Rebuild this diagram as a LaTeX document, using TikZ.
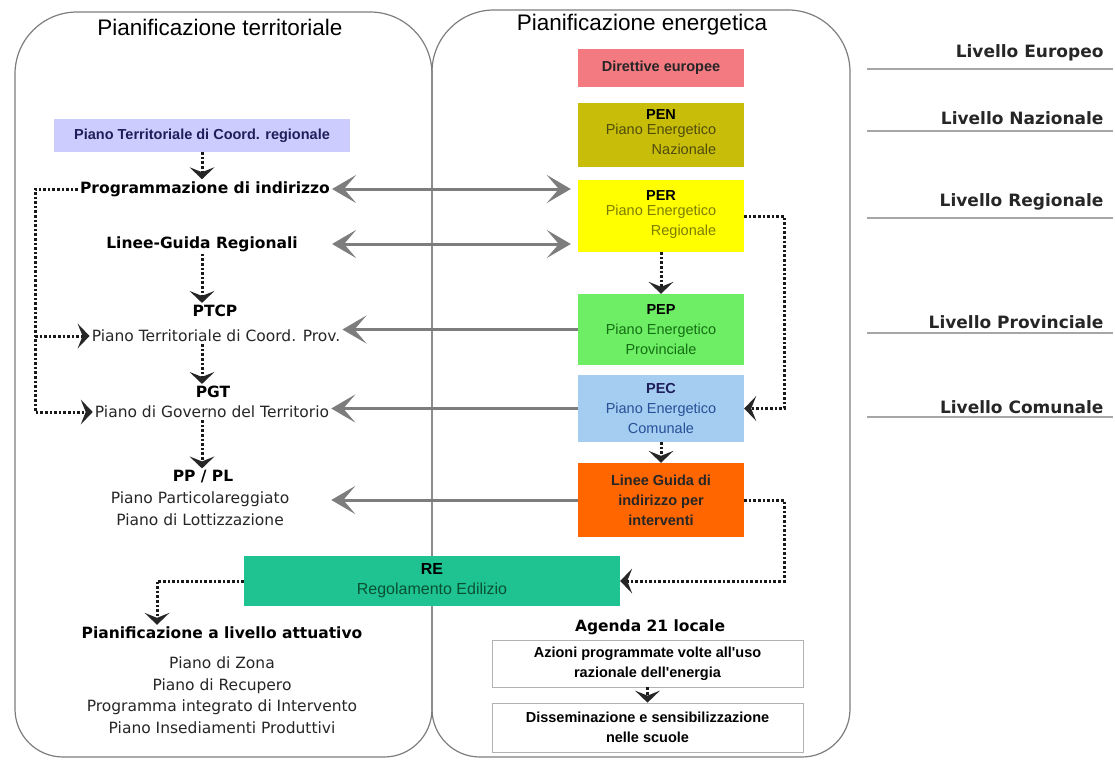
\documentclass[tikz,border=0pt]{standalone}
\usepackage{fontspec}
\setmainfont{DejaVu Sans}
\newfontfamily\arialfont{Liberation Sans}
\usetikzlibrary{arrows.meta}
\definecolor{panelgray}{RGB}{125,125,125}
\definecolor{arrgray}{RGB}{125,125,125}
\definecolor{dircol}{RGB}{244,122,130}
\definecolor{pencol}{RGB}{200,190,10}
\definecolor{percol}{RGB}{255,255,0}
\definecolor{pepcol}{RGB}{110,238,100}
\definecolor{peccol}{RGB}{165,205,242}
\definecolor{lgicol}{RGB}{255,102,0}
\definecolor{recol}{RGB}{30,195,145}
\definecolor{ptcrcol}{RGB}{204,204,255}
\definecolor{pentxt}{RGB}{80,75,10}
\definecolor{pertxt}{RGB}{125,125,0}
\definecolor{peptxt}{RGB}{20,110,20}
\definecolor{pectxt}{RGB}{40,80,150}
\definecolor{retxt}{RGB}{10,80,50}
\definecolor{navytxt}{RGB}{30,30,90}
\begin{document}
\begin{tikzpicture}[x=1pt, y=-1pt,
    panel/.style={draw=panelgray, line width=1.2pt},
    ttl/.style={font=\arialfont\fontsize{22.5}{27}\selectfont},
    lvl/.style={anchor=east, font=\bfseries\fontsize{17}{20}\selectfont, text=black!85},
    lvlline/.style={draw=gray!70, line width=1.6pt},
    lab/.style={font=\bfseries\fontsize{15.5}{19}\selectfont, inner sep=2pt},
    desc/.style={font=\fontsize{15.5}{21.5}\selectfont, align=center, inner sep=2pt, text=black!85},
    ebox/.style={minimum width=166pt, align=center, inner sep=0pt, font=\arialfont\fontsize{14.5}{20}\selectfont},
    abox/.style={draw=gray!60, line width=0.8pt, minimum width=311pt, align=center, inner sep=0pt, font=\arialfont\bfseries\fontsize{14.5}{20}\selectfont},
    gtip/.tip={Stealth[length=24pt, width=28pt, inset=12pt]},
    garr/.style={draw=arrgray, fill=arrgray, line width=3pt, -gtip},
    garrb/.style={draw=arrgray, fill=arrgray, line width=3pt, gtip-gtip, shorten >=7pt},
    darr/.style={draw=black!90, line width=3pt, dash pattern=on 2.6pt off 2pt,
                 -{Stealth[length=12pt, width=25pt, inset=5pt, line width=0pt, fill=black!85]}}]
  \useasboundingbox (0,0) rectangle (1115,760);

  \draw[panel] (15,400) [rounded corners=62pt] |- (432,12) -- (432,400);
  \draw[panel] (15,400) [rounded corners=48pt] |- (432,757) -- (432,400);
  \draw[panel] (432,400) [rounded corners=62pt] |- (850,10) -- (850,400);
  \draw[panel] (432,400) [rounded corners=48pt] |- (850,757) -- (850,400);

  \node[ttl] (tterr) at (220,27) {Pianificazione territoriale};
  \node[ttl] (tener) at (642,25) {Pianificazione energetica};

  \foreach \ty/\ly/\name in {53/69/Europeo, 118/131/Nazionale, 202/218/Regionale, 322/333/Provinciale, 407/417/Comunale} {
    \node[lvl] (l\name) at (1107,\ty) {Livello \name};
    \draw[lvlline] (867,\ly) -- (1113,\ly);
  }

  \node[fill=ptcrcol, minimum width=296pt, minimum height=33pt, inner sep=0pt, text=navytxt,
        font=\arialfont\bfseries\fontsize{14.5}{17}\selectfont] (ptcr) at (202,135.5) {Piano Territoriale di Coord. regionale};
  \node[lab] (prog) at (205,189) {Programmazione di indirizzo};
  \node[lab] (lgr) at (202,244) {Linee-Guida Regionali};
  \node[lab] (ptcpT) at (215,311) {PTCP};
  \node[desc] (ptcp) at (216,336) {Piano Territoriale di Coord. Prov.};
  \node[lab] (pgtT) at (213,392) {PGT};
  \node[desc] (pgt) at (212,412) {Piano di Governo del Territorio};
  \node[lab] (ppT) at (203,477) {PP / PL};
  \node[desc] (pp) at (200,508.5) {Piano Particolareggiato\\Piano di Lottizzazione};
  \node[lab] (attT) at (222,633) {Pianificazione a livello attuativo};
  \node[desc] (att) at (222,695) {Piano di Zona\\Piano di Recupero\\Programma integrato di Intervento\\Piano Insediamenti Produttivi};

  \node[ebox, fill=dircol, minimum height=38pt, text=black!85, font=\arialfont\bfseries\fontsize{14.5}{20}\selectfont] (dir) at (661,68) {Direttive europee};
  \node[ebox, fill=pencol, minimum height=64pt, text=pentxt] (pen) at (661,135)
    {\textcolor{black}{\textbf{PEN}}\\\begin{tabular}{@{}r@{}}Piano Energetico\\Nazionale\end{tabular}};
  \node[ebox, fill=percol, minimum height=72pt, text=pertxt] (per) at (661,216)
    {\textcolor{black}{\textbf{PER}}\\\begin{tabular}{@{}r@{}}Piano Energetico\\Regionale\end{tabular}};
  \node[ebox, fill=pepcol, minimum height=71pt, text=peptxt] (pep) at (661,329.5)
    {\textcolor{black}{\textbf{PEP}}\\Piano Energetico\\Provinciale};
  \node[ebox, fill=peccol, minimum height=67pt, text=pectxt] (pec) at (661,408.5)
    {\textcolor{navytxt}{\textbf{PEC}}\\Piano Energetico\\Comunale};
  \node[ebox, fill=lgicol, minimum height=74pt, text=black!85, font=\arialfont\bfseries\fontsize{14.5}{20}\selectfont] (lgi) at (661,500)
    {Linee Guida di\\indirizzo per\\interventi};
  \node[ebox, fill=recol, minimum width=376pt, minimum height=50pt, text=retxt, font=\arialfont\fontsize{16}{20}\selectfont] (re) at (432,581)
    {\textcolor{black}{\textbf{RE}}\\Regolamento Edilizio};
  \node[lab] (ag) at (650,627) {Agenda 21 locale};
  \node[abox, minimum height=47pt] (az) at (647.5,663.5) {Azioni programmate volte all'uso\\razionale dell'energia};
  \node[abox, minimum height=49pt] (dis) at (647.5,727.5) {Disseminazione e sensibilizzazione\\nelle scuole};

  \coordinate (lx) at (35,189);
  \coordinate (rx) at (784,211);
  \coordinate (ax) at (157,582);

  \draw[darr] (ptcr.south) -- (ptcr.south |- prog.north);
  \draw[darr] (lgr.south) -- (lgr.south |- ptcpT.north);
  \draw[darr] (ptcp.south -| lgr.south) -- (pgtT.north -| lgr.south);
  \draw[darr] (pgt.south -| lgr.south) -- (ppT.north -| lgr.south);
  \draw[darr] (prog.west) -- (lx) |- (pgt.west);
  \draw[darr] (lx |- ptcp.west) -- (ptcp.west);
  \draw[darr] (per.south) -- (pep.north);
  \draw[darr] (pec.south) -- (lgi.north);
  \draw[darr] (per.east) -- (rx |- per.east) |- (pec.east);
  \draw[darr] (lgi.east) -- (rx |- lgi.east) |- (re.east);
  \draw[darr] (re.west) -| (attT.north -| ax);
  \draw[darr] (az.south) -- (dis.north);

  \draw[garrb] (prog.east) -- (per.west |- prog.east);
  \draw[garrb] (prog.east |- lgr.east) -- (per.west |- lgr.east);
  \draw[garr] (pep.west) -- (pep.west -| ptcp.east);
  \draw[garr] (pec.west) -- (pec.west -| pgt.east);
  \draw[garr] (lgi.west) -- (lgi.west -| pgt.east);
\end{tikzpicture}
\end{document}
